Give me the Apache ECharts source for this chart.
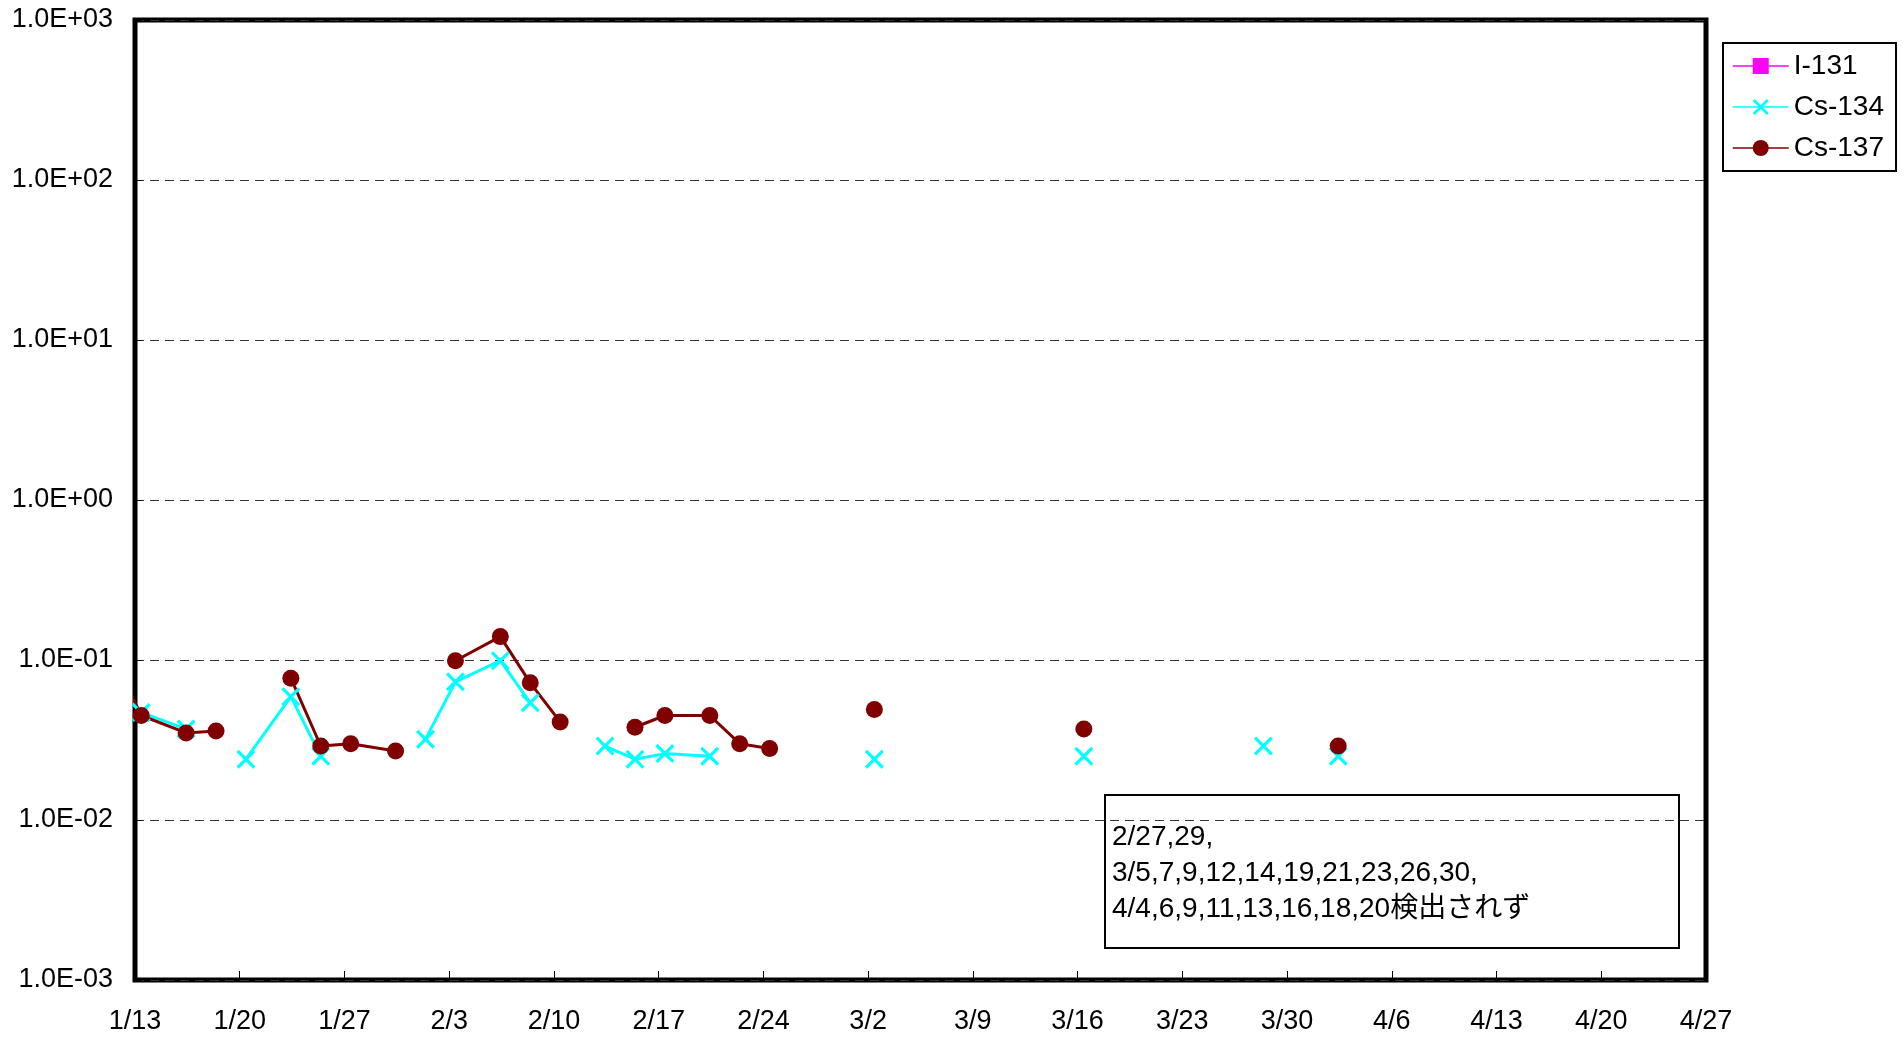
<!DOCTYPE html>
<html>
<head>
<meta charset="utf-8">
<title>I-131 / Cs-134 / Cs-137</title>
<script src="https://cdn.jsdelivr.net/npm/echarts@6/dist/echarts.min.js"></script>
<style>
  html, body { margin: 0; padding: 0; background: #fff; }
  #main { width: 1904px; height: 1039px; }
</style>
</head>
<body>
<div id="main"></div>
<script>
  // sampling days in 2012 (not-detected days kept so the lines break there)
  var dates = ['1/11', '1/13', '1/16', '1/18', '1/20', '1/23', '1/25', '1/27', '1/30',
    '2/1', '2/3', '2/6', '2/8', '2/10', '2/13', '2/15', '2/17', '2/20', '2/22', '2/24',
    '2/27', '2/29', '3/2', '3/5', '3/7', '3/9', '3/12', '3/14', '3/16', '3/19', '3/21',
    '3/23', '3/26', '3/28', '3/30', '4/2', '4/4', '4/6', '4/9', '4/11', '4/13', '4/16',
    '4/18', '4/20'];

  var cs134 = [0.077, 0.047, 0.037, null, 0.024, 0.059, 0.025, null, null,
    0.032, 0.073, 0.099, 0.054, null, 0.029, 0.024, 0.026, 0.025, null, null,
    null, null, 0.024, null, null, null, null, null, 0.025, null, null,
    null, null, 0.029, null, 0.025, null, null, null, null, null, null,
    null, null];

  var cs137 = [0.11, 0.045, 0.035, 0.036, null, 0.077, 0.029, 0.030, 0.027,
    null, 0.099, 0.14, 0.072, 0.041, null, 0.038, 0.045, 0.045, 0.030, 0.028,
    null, null, 0.049, null, null, null, null, null, 0.037, null, null,
    null, null, null, null, 0.029, null, null, null, null, null, null,
    null, null];

  var i131 = []; // 全期間 検出されず

  var xTicks = ['1/13', '1/20', '1/27', '2/3', '2/10', '2/17', '2/24', '3/2', '3/9',
    '3/16', '3/23', '3/30', '4/6', '4/13', '4/20', '4/27'];

  var noteLines = ['2/27,29,', '3/5,7,9,12,14,19,21,23,26,30,', '4/4,6,9,11,13,16,18,20検出されず'];

  var FONT = '"Liberation Sans", Arial, "Noto Sans CJK JP", sans-serif';
  var SAMPLE_HOUR = 10;

  // days since 1/13 (first axis tick)
  function dayOf(md) {
    var p = md.split('/');
    return (Date.UTC(2012, p[0] - 1, +p[1]) - Date.UTC(2012, 0, 13)) / 86400000 + SAMPLE_HOUR / 24;
  }
  function pairs(vals) {
    return vals.map(function (v, i) { return [dayOf(dates[i]), v == null ? '-' : v]; });
  }
  function sci(v) {
    var s = v.toExponential(1).split('e');
    var e = s[1];
    return s[0] + 'E' + e.charAt(0) + e.slice(1).padStart(2, '0');
  }

  // thin "x" marker
  var crossPath = 'path://M0,1.2L1.2,0L5,3.8L8.8,0L10,1.2L6.2,5L10,8.8L8.8,10L5,6.2L1.2,10L0,8.8L3.8,5Z';

  var myChart = echarts.init(document.getElementById('main'));
  var option = {
    animation: false,
    backgroundColor: '#fff',
    grid: {
      left: 135, top: 20, right: 198, bottom: 59,
      show: true, borderColor: '#000', borderWidth: 5, backgroundColor: 'transparent'
    },
    legend: {
      orient: 'vertical',
      left: 1723, top: 43,
      padding: [9, 12, 9, 9],
      itemGap: 13,
      itemWidth: 56, itemHeight: 20,
      borderColor: '#000', borderWidth: 2,
      backgroundColor: '#fff',
      lineStyle: { width: 1.5 },
      textStyle: { fontSize: 28, color: '#000', fontFamily: FONT, lineHeight: 28 },
      data: ['I-131', 'Cs-134', 'Cs-137']
    },
    xAxis: {
      type: 'value',
      min: 0, max: 105, interval: 7,
      axisLine: { show: false },
      axisTick: { show: true, inside: true, length: 9, lineStyle: { color: '#000', width: 1 } },
      axisLabel: {
        fontSize: 27, color: '#000', fontFamily: FONT, margin: 28,
        formatter: function (v) { return xTicks[Math.round(v / 7)]; }
      },
      splitLine: { show: false }
    },
    yAxis: {
      type: 'log', logBase: 10,
      min: 0.001, max: 1000, splitNumber: 6,
      axisLine: { show: false },
      axisTick: { show: true, inside: true, length: 7, lineStyle: { color: '#000', width: 1 } },
      axisLabel: { fontSize: 27, color: '#000', fontFamily: FONT, margin: 22, formatter: sci },
      splitLine: { show: true, lineStyle: { color: '#333', width: 1, type: [9, 6] } }
    },
    series: [
      {
        name: 'I-131', type: 'line', data: i131,
        symbol: 'rect', symbolSize: 15,
        itemStyle: { color: '#ff00ff' },
        lineStyle: { color: '#ff00ff', width: 3 }
      },
      {
        name: 'Cs-134', type: 'line', data: pairs(cs134), clip: true,
        symbol: crossPath, symbolSize: 19,
        itemStyle: { color: '#00ffff' },
        lineStyle: { color: '#00ffff', width: 3 }
      },
      {
        name: 'Cs-137', type: 'line', data: pairs(cs137), clip: true,
        symbol: 'circle', symbolSize: 17,
        itemStyle: { color: '#800000' },
        lineStyle: { color: '#800000', width: 3 }
      }
    ],
    graphic: [{
      type: 'group', left: 1104, top: 794,
      children: [
        {
          type: 'rect', shape: { x: 0, y: 0, width: 574, height: 153 },
          style: { fill: '#fff', stroke: '#000', lineWidth: 2 }
        },
        {
          type: 'text', x: 7, y: 78,
          style: {
            text: noteLines.join('\n'), font: '28px ' + FONT, fill: '#000',
            verticalAlign: 'middle', lineHeight: 36
          }
        }
      ]
    }]
  };
  myChart.setOption(option);
</script>
</body>
</html>
